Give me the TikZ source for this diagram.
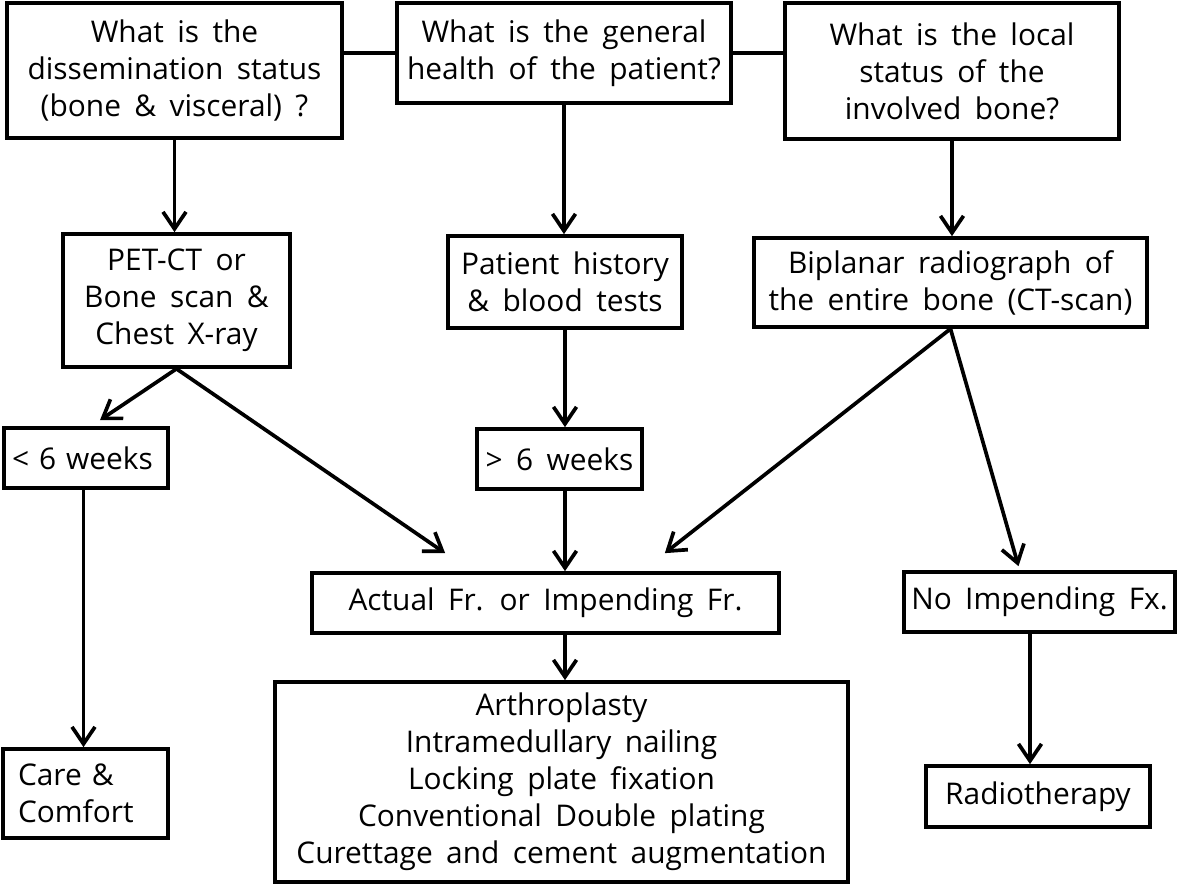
\documentclass[tikz,border=0pt]{standalone}
\usepackage{fontspec}
\setmainfont{Open Sans}
\usetikzlibrary{arrows.meta}
\newcommand{\boxfont}{\fontsize{17}{21}\selectfont\spaceskip=0.45em plus 0.1em minus 0.05em\relax}
\begin{document}
\begin{tikzpicture}[x=0.02cm,y=-0.02cm,
  box/.style={draw, line width=2.1pt, inner sep=0pt, align=center,
    font=\boxfont},
  arr/.style={line width=2.1pt, -{Straight Barb[length=3.4mm,width=4.6mm]}},
  link/.style={line width=2.1pt}]
\useasboundingbox (0,0) rectangle (1181,888);
\node[box, minimum width=6.7cm, minimum height=2.7cm] (Q1) at (174.5,70.5)
  {What is the\\dissemination status\\(bone \& visceral) ?};
\node[box, minimum width=6.68cm, minimum height=2.0cm] (Q2) at (564,53)
  {What is the general\\health of the patient?};
\node[box, minimum width=6.68cm, minimum height=2.72cm] (Q3) at (952,71)
  {What is the local\\status of the\\involved bone?};
\node[box, minimum width=4.54cm, minimum height=2.66cm] (PET) at (176.5,300.5)
  {PET-CT or\\Bone scan \&\\Chest X-ray};
\node[box, minimum width=4.68cm, minimum height=1.84cm] (Hist) at (565,282)
  {Patient history\\\& blood tests};
\node[box, minimum width=7.86cm, minimum height=1.78cm] (Bip) at (950.5,282.5)
  {Biplanar radiograph of\\the entire bone (CT-scan)};
\node[box, minimum width=3.28cm, minimum height=1.2cm, inner xsep=0.16cm,
  text width=2.96cm, align=left] (lt6) at (86,458) {< 6 weeks};
\node[box, minimum width=3.3cm, minimum height=1.2cm] (gt6) at (559.5,459)
  {> 6 weeks};
\node[box, minimum width=9.34cm, minimum height=1.2cm] (Actual) at (545.5,603)
  {Actual Fr. or Impending Fr.};
\node[box, minimum width=11.46cm, minimum height=4.0cm] (Treat) at (561.5,782)
  {Arthroplasty\\Intramedullary nailing\\Locking plate fixation\\Conventional Double plating\\Curettage and cement augmentation};
\node[box, minimum width=5.42cm, minimum height=1.2cm] (NoImp) at (1039.5,602)
  {No Impending Fx.};
\node[box, minimum width=3.3cm, minimum height=1.78cm, inner xsep=0.3cm,
  text width=2.7cm, align=left] (Care) at (85.5,793.5) {Care \&\\Comfort};
\node[box, minimum width=4.48cm, minimum height=1.22cm] (Radio) at (1038,796.5)
  {Radiotherapy};
% links between top questions
\draw[link] (Q2.west) -- (Q2.west -| Q1.east);
\draw[link] (Q2.east) -- (Q2.east -| Q3.west);
% arrows
\draw[arr] (Q1.south) -- (Q1.south |- PET.north);
\draw[arr] (Q2.south) -- (Q2.south |- Hist.north);
\draw[arr] (Q3.south) -- (Q3.south |- Bip.north);
\draw[arr] (PET.south) -- ([xshift=0.28cm,yshift=0.12cm]lt6.north);
\draw[arr] (PET.south) -- ([xshift=2.7cm,yshift=0.36cm]Actual.north west);
\draw[arr] (Hist.south) -- (Hist.south |- gt6.north);
\draw[arr] (Hist.south |- gt6.south) -- (Hist.south |- Actual.north);
\draw[arr] (Bip.south) -- ([xshift=-2.32cm,yshift=0.36cm]Actual.north east);
\draw[arr] (Bip.south) -- ([xshift=-0.42cm,yshift=0.08cm]NoImp.north);
\draw[arr] ([xshift=-0.05cm]lt6.south) -- ([xshift=-0.05cm]lt6.south |- Care.north);
\draw[arr] (Hist.south |- Actual.south) -- (Hist.south |- Treat.north);
\draw[arr] ([xshift=-0.19cm]NoImp.south) -- ([xshift=-0.19cm]NoImp.south |- Radio.north);
\end{tikzpicture}
\end{document}
